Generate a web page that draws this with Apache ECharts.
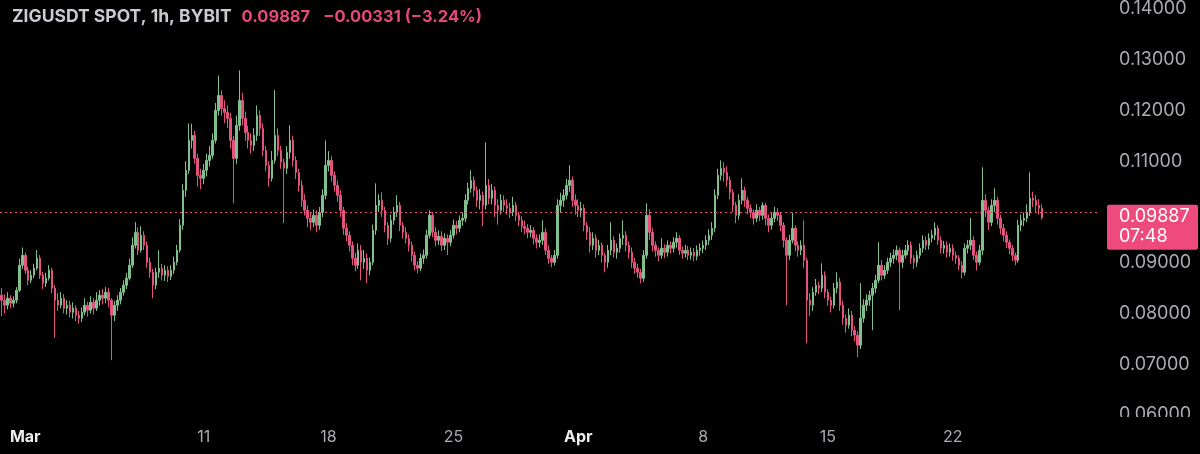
<!DOCTYPE html>
<html><head><meta charset="utf-8">
<script src="https://cdn.jsdelivr.net/npm/echarts@6/dist/echarts.min.js"></script>
<style>html,body{margin:0;padding:0;background:#000;}#c{width:1200px;height:454px;}</style>
</head><body><div id="c"></div>
<script>
const symbolTitle = 'ZIGUSDT SPOT, 1h, BYBIT';
const lastPrice = 0.09887;
const priceChange = -0.00331;
const priceChangePct = -3.24;
const countdown = '07:48';
const firstSlotUTC = Date.UTC(2025, 1, 27, 16);
const slotHours = 4;
const slotCount = 370;
const tickDays = ['03-01','03-11','03-18','03-25','04-01','04-08','04-15','04-22'];
const tickLabels = ['Mar','11','18','25','Apr','8','15','22'];
const monthTicks = ['Mar','Apr'];
const yMin = 0.0596, yMax = 0.14167;
// [open, close, low, high] in units of 0.00001
const ohlc = [
[8360,8262,7950,8500],[8262,8163,8000,8380],[8163,8301,8080,8420],[8301,8202,8100,8360],[8202,8262,8120,8340],[8262,8458,8200,8520],
[8458,8951,8420,9080],[8951,9147,8880,9300],[9147,8852,8780,9200],[8852,8655,8560,8920],[8655,8754,8600,8850],[8754,8891,8700,8980],
[8891,9088,8850,9250],[9088,8754,8680,9150],[8754,8596,8480,8820],[8596,8695,8520,8800],[8695,8852,8650,8951],[8852,8498,8400,8900],
[8498,8262,7520,8560],[8262,8163,8050,8400],[8163,8301,8100,8420],[8301,8104,8000,8380],[8104,8163,7980,8260],[8163,8025,7920,8250],
[8025,8104,7900,8220],[8104,7966,7850,8160],[7966,7907,7800,8050],[7907,8025,7830,8120],[8025,8163,7960,8300],[8163,8065,7940,8230],
[8065,8222,8000,8340],[8222,8104,7980,8300],[8104,8262,8050,8420],[8262,8360,8150,8460],[8360,8301,8180,8480],[8301,8419,8200,8520],
[8419,8262,8120,8500],[8262,7966,7080,8300],[7966,8163,7850,8250],[8163,8262,8050,8360],[8262,8419,8180,8500],[8419,8557,8350,8650],
[8557,8695,8480,8800],[8695,8951,8650,9080],[8951,9344,8900,9500],[9344,9600,9280,9800],[9600,9246,9150,9700],[9246,9541,9200,9720],
[9541,9344,9250,9620],[9344,9010,8900,9420],[9010,8813,8700,9100],[8813,8557,8300,8880],[8557,8813,8480,8900],[8813,8891,8700,9246],
[8891,8754,8650,8980],[8754,8852,8640,8950],[8852,8734,8620,8930],[8734,8852,8660,8950],[8852,9010,8780,9120],[9010,9246,8950,9350],
[9246,9738,9200,9860],[9738,10427,9650,10550],[10427,10821,10300,11000],[10821,11411,10750,11746],[11411,11509,11250,11740],[11509,11057,10950,11600],
[11057,10722,10500,11150],[10722,10663,10450,10850],[10663,10821,10550,10950],[10821,11017,10700,11150],[11017,11116,10900,11300],[11116,11411,11050,11550],
[11411,12002,11350,12150],[12002,12297,11900,12690],[12297,12041,11900,12400],[12041,11962,11750,12200],[11962,11844,11650,12100],[11844,11411,11250,11950],
[11411,11057,10170,11500],[11057,11706,10950,11900],[11706,12199,11600,12790],[12199,11844,11700,12350],[11844,11569,11400,11980],[11569,11411,11250,11700],
[11411,11313,11150,11550],[11313,11509,11200,11650],[11509,11903,11400,12100],[11903,11647,11500,12000],[11647,11214,11100,11750],[11214,10919,10800,11300],
[10919,10663,10500,11000],[10663,11017,10600,11200],[11017,11509,10950,12400],[11509,11214,11100,11650],[11214,10978,10850,11300],[10978,10860,9780,11050],
[10860,11175,10750,11300],[11175,11411,11050,11710],[11411,11017,10900,11500],[11017,10781,10650,11100],[10781,10525,10400,10850],[10525,10230,10100,10620],
[10230,10033,9930,10350],[10033,9876,9700,10130],[9876,9797,9640,9980],[9797,9935,9700,10050],[9935,9738,9600,10030],[9738,9994,9650,10100],
[9994,10328,9900,10450],[10328,10919,10250,11411],[10919,11017,10800,11200],[11017,10722,10600,11100],[10722,10525,10400,10800],[10525,10328,10200,10620],
[10328,10033,9900,10430],[10033,9679,9550,10100],[9679,9541,9420,9780],[9541,9344,9220,9620],[9344,9088,8950,9420],[9088,8951,8830,9200],
[8951,9246,8880,9380],[9246,9010,8655,9350],[9010,9088,8880,9250],[9088,8852,8600,9180],[8852,9010,8750,9100],[9010,9639,8950,9750],
[9639,10131,9550,10565],[10131,10230,10000,10350],[10230,10033,9900,10390],[10033,9738,9600,10100],[9738,9482,9350,9800],[9482,9836,9400,9950],
[9836,9994,9750,10100],[9994,10131,9900,10330],[10131,9738,9620,10200],[9738,9600,9480,9800],[9600,9482,9380,9700],[9482,9344,9220,9560],
[9344,9147,9020,9420],[9147,8951,8850,9220],[8951,8891,8790,9030],[8891,9088,8830,9180],[9088,9147,8980,9260],[9147,9541,9080,9650],
[9541,9935,9480,10033],[9935,9600,9500,10000],[9600,9443,9320,9700],[9443,9521,9350,9640],[9521,9344,9230,9620],[9344,9482,9250,9580],
[9482,9403,9150,9560],[9403,9541,9330,9640],[9541,9738,9480,9850],[9738,9679,9560,9820],[9679,9836,9600,9930],[9836,9876,9730,9990],
[9876,10230,9800,10350],[10230,10466,10150,10580],[10466,10624,10380,10821],[10624,10427,10300,10700],[10427,10230,10100,10500],[10230,10328,10050,10450],
[10328,10131,9720,10400],[10131,10525,10050,11370],[10525,10269,10150,10650],[10269,10427,10150,10550],[10427,10131,9900,10500],[10131,10033,9750,10250],
[10033,10230,9950,10350],[10230,10131,10000,10330],[10131,10073,9950,10250],[10073,9994,9880,10180],[9994,10131,9920,10300],[10131,9935,9820,10200],
[9935,9836,9720,10000],[9836,9718,9600,9920],[9718,9679,9560,9830],[9679,9600,9480,9760],[9600,9639,9500,9740],[9639,9482,9360,9700],
[9482,9403,9280,9560],[9403,9443,9300,9560],[9443,9600,9350,9836],[9600,9246,9150,9680],[9246,9088,8980,9340],[9088,9010,8910,9150],
[9010,9147,8950,9250],[9147,10131,9080,10250],[10131,10230,10000,10380],[10230,10328,10100,10450],[10328,10525,10250,10650],[10525,10624,10400,10919],
[10624,10230,10100,10700],[10230,10131,9950,10350],[10131,10033,9900,10250],[10033,10073,9900,10200],[10073,9738,9620,10150],[9738,9600,9450,9800],
[9600,9344,9200,9700],[9344,9482,9250,9600],[9482,9246,9100,9560],[9246,9344,9150,9450],[9344,9147,9000,9400],[9147,9010,8810,9200],
[9010,9246,8900,9350],[9246,9443,9150,9797],[9443,9206,9100,9520],[9206,9285,9080,9380],[9285,9482,9200,9580],[9482,9541,9350,9836],
[9541,9344,9220,9620],[9344,9206,9080,9420],[9206,9010,8900,9300],[9010,8891,8780,9100],[8891,8813,8700,8980],[8813,8695,8596,8880],
[8695,9147,8620,9250],[9147,9935,9080,10170],[9935,9600,9450,10050],[9600,9344,9220,9680],[9344,9246,9120,9420],[9246,9147,9030,9300],
[9147,9285,9080,9482],[9285,9206,9090,9360],[9206,9344,9120,9440],[9344,9285,9180,9420],[9285,9403,9200,9500],[9403,9482,9300,9600],
[9482,9246,9150,9540],[9246,9187,9080,9320],[9187,9246,9100,9350],[9246,9147,9050,9330],[9147,9206,9060,9300],[9206,9128,9030,9290],
[9128,9246,9050,9340],[9246,9285,9140,9380],[9285,9344,9190,9440],[9344,9443,9250,9540],[9443,9541,9350,9660],[9541,9679,9450,9800],
[9679,10328,9600,10450],[10328,10722,10250,10850],[10722,10860,10620,11017],[10860,10781,10600,10980],[10781,10624,10500,10900],[10624,10387,10250,10700],
[10387,10131,10000,10450],[10131,9935,9780,10200],[9935,10230,9850,10350],[10230,10427,10150,10663],[10427,10230,10100,10500],[10230,10073,9950,10300],
[10073,9994,9880,10150],[9994,9876,9750,10050],[9876,10033,9800,10150],[10033,9935,9820,10100],[9935,10131,9850,10191],[10131,9876,9740,10180],
[9876,9738,9600,9950],[9738,9876,9650,9980],[9876,9994,9800,10100],[9994,9935,9820,10080],[9935,9738,9620,10000],[9738,9443,9300,9800],
[9443,9147,8160,9500],[9147,9443,9050,9550],[9443,9679,9380,9990],[9679,9344,9230,9740],[9344,9246,9120,9420],[9246,9344,9150,9440],
[9344,9049,8900,9836],[9049,8262,7415,9100],[8262,8163,7950,8400],[8163,8419,8050,8520],[8419,8557,8350,8680],[8557,8498,8380,8620],
[8498,8754,8420,8990],[8754,8419,8300,8830],[8419,8262,8150,8480],[8262,8163,8020,8330],[8163,8498,8100,8600],[8498,8616,8400,8813],
[8616,8163,8050,8700],[8163,7907,7780,8250],[7907,7770,7620,7980],[7770,7966,7700,8100],[7966,7671,7550,8050],[7671,7573,7450,7750],
[7573,7376,7140,7650],[7376,7907,7300,8596],[7907,8163,7820,8280],[8163,8262,8050,8380],[8262,8360,8150,8450],[8360,8498,7671,8600],
[8498,8655,8400,8760],[8655,8951,8600,9403],[8951,8754,8650,9050],[8754,8852,8680,8950],[8852,9010,8780,9100],[9010,9088,8920,9200],
[9088,9147,8980,9260],[9147,9246,9050,9340],[9246,9010,8065,9300],[9010,9147,8900,9260],[9147,9246,9080,9350],[9246,9344,9150,9440],
[9344,9088,8980,9420],[9088,9010,8880,9150],[9010,9147,8920,9240],[9147,9285,9080,9380],[9285,9443,9200,9540],[9443,9344,9250,9520],
[9344,9482,9260,9580],[9482,9541,9400,9650],[9541,9679,9450,9797],[9679,9443,9350,9740],[9443,9285,9180,9520],[9285,9344,9180,9430],
[9344,9206,9100,9420],[9206,9285,9120,9380],[9285,9147,9040,9360],[9147,9088,8980,9220],[9088,8951,8850,9150],[8951,8813,8695,9030],
[8813,9285,8750,9380],[9285,9344,9180,9450],[9344,9443,9250,9880],[9443,9147,9050,9520],[9147,9010,8850,9220],[9010,9246,8950,9350],
[9246,10230,9150,10880],[10230,10033,9900,10350],[10033,9797,9640,10100],[9797,10131,9720,10250],[10131,10230,10000,10466],[10230,9876,9750,10300],
[9876,9679,9560,9950],[9679,9541,9420,9760],[9541,9403,9290,9620],[9403,9285,9170,9460],[9285,9147,9030,9350],[9147,9049,8950,9200],
[9049,9738,9000,9850],[9738,9836,9620,9950],[9836,9876,9720,9990],[9876,9994,9800,10150],[9994,10269,9920,10781],[10269,10230,10100,10400],
[10230,10131,10000,10330],[10131,10073,9950,10250],[10073,9887,9850,10150]
];

const pad = n => String(n).padStart(2, '0');
const categories = [];
for (let k = 0; k < slotCount; k++) {
  const d = new Date(firstSlotUTC + k * slotHours * 3600e3);
  categories.push(pad(d.getUTCMonth() + 1) + '-' + pad(d.getUTCDate()) + ' ' + pad(d.getUTCHours()));
}
const tickMap = {};
tickDays.forEach((d, i) => { tickMap[d + ' 00'] = tickLabels[i]; });
const seriesData = ohlc.map(r => r.map(v => v / 1e5));

const UP = '#7fc08d', DOWN = '#e4527f', PINK = '#ee4a7d';
const FONT = 'Inter, "Noto Sans", sans-serif';
const minus = '\u2212';
const changeText = minus + Math.abs(priceChange).toFixed(5) + ' (' + minus + Math.abs(priceChangePct).toFixed(2) + '%)';

const chart = echarts.init(document.getElementById('c'), null, {renderer: 'canvas'});
chart.setOption({
  animation: false,
  backgroundColor: '#000000',
  title: {
    left: 12, top: 8, padding: 0,
    text: '{a|' + symbolTitle + '}{s| }{b|' + lastPrice.toFixed(5) + '}{t| }{b|' + changeText + '}',
    textStyle: {
      fontFamily: FONT,
      rich: {
        a: {color: '#c9cbd1', fontSize: 17.5, fontFamily: FONT},
        b: {color: '#e5497c', fontSize: 16.5, fontFamily: FONT},
        s: {width: 10, fontSize: 17.5},
        t: {width: 13, fontSize: 17.5}
      }
    }
  },
  grid: {left: 0, right: 100, top: 0, bottom: 37},
  xAxis: {
    type: 'category', data: categories, boundaryGap: true,
    axisLine: {show: false}, axisTick: {show: false}, splitLine: {show: false},
    z: 20,
    axisLabel: {
      interval: (idx, val) => tickMap[val] !== undefined,
      formatter: val => {
        const t = tickMap[val];
        return monthTicks.includes(t) ? '{m|' + t + '}' : '{d|' + t + '}';
      },
      margin: 12,
      rich: {
        m: {color: '#eeeeee', fontWeight: 'bold', fontSize: 16, fontFamily: FONT},
        d: {color: '#a9acb3', fontSize: 16, fontFamily: FONT}
      }
    }
  },
  yAxis: {
    type: 'value', position: 'right', min: yMin, max: yMax, splitNumber: 8,
    axisLine: {show: false}, axisTick: {show: false}, splitLine: {show: false},
    axisLabel: {
      // labels that would sit under the last-price tag are hidden, as on the original
      formatter: v => Math.abs(v - lastPrice) < 0.004 ? '' : v.toFixed(5),
      showMinLabel: false, showMaxLabel: false,
      color: '#a9acb3', fontSize: 18, fontFamily: FONT, margin: 19
    }
  },
  series: [{
    type: 'candlestick',
    data: seriesData,
    barWidth: 2,
    itemStyle: {color: UP, color0: DOWN, borderColor: UP, borderColor0: DOWN, borderWidth: 1},
    markLine: {
      silent: true, symbol: ['none', 'none'],
      label: {show: false},
      lineStyle: {color: PINK, type: [2, 3], width: 1},
      data: [{yAxis: lastPrice}]
    }
  }]
});

const py = chart.convertToPixel({yAxisIndex: 0}, lastPrice);
chart.setOption({
  graphic: [
    {type: 'rect', z: 100, shape: {x: 1100, y: 417, width: 100, height: 37}, style: {fill: '#000000'}},
    {type: 'rect', z: 101, shape: {x: 1107, y: py - 13, width: 91, height: 45, r: 2}, style: {fill: PINK}},
    {type: 'text', z: 102, x: 1119, y: py - 1, style: {text: lastPrice.toFixed(5), fill: '#ffffff', font: '18px ' + FONT, verticalAlign: 'middle'}},
    {type: 'text', z: 102, x: 1119, y: py + 19, style: {text: countdown, fill: '#ffffff', font: '18px ' + FONT, verticalAlign: 'middle'}}
  ]
});
</script>
</body></html>
